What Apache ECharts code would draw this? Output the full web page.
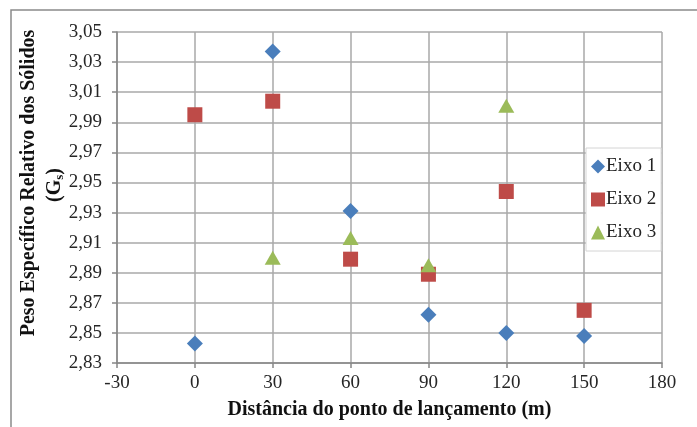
<!DOCTYPE html>
<html>
<head>
<meta charset="utf-8">
<script src="https://cdn.jsdelivr.net/npm/echarts@6/dist/echarts.min.js"></script>
<style>
html,body{margin:0;padding:0;background:#fff;}
#c{width:697px;height:427px;}
</style>
</head>
<body>
<div id="c"></div>
<script>
var xValues = [0, 30, 60, 90, 120, 150];
var eixo1 = [2.843, 3.037, 2.931, 2.862, 2.850, 2.848];
var eixo2 = [2.995, 3.004, 2.899, 2.889, 2.944, 2.865];
var eixo3x = [30, 60, 90, 120];
var eixo3 = [2.900, 2.913, 2.895, 3.001];
var yTicks = [2.83, 2.85, 2.87, 2.89, 2.91, 2.93, 2.95, 2.97, 2.99, 3.01, 3.03, 3.05];
var seriesNames = ['Eixo 1', 'Eixo 2', 'Eixo 3'];

function pairs(xs, ys) { return xs.map(function (x, i) { return [x, ys[i]]; }); }

var FONT = 'Liberation Serif';
var chart = echarts.init(document.getElementById('c'));
chart.setOption({
  animation: false,
  backgroundColor: '#fff',
  grid: { left: 117, right: 35, top: 32, bottom: 64 },
  xAxis: {
    type: 'value', min: -30, max: 180, interval: 30,
    axisLine: { show: true, onZero: false, lineStyle: { color: '#868686', width: 1.5 } },
    axisTick: { show: true, inside: false, length: 5, lineStyle: { color: '#868686', width: 1.5 } },
    axisLabel: { margin: 11, fontFamily: FONT, fontSize: 19, color: '#262626' },
    splitLine: { show: true, lineStyle: { color: '#a8a8a8', width: 1.5 } },
    name: 'Distância do ponto de lançamento (m)',
    nameLocation: 'middle', nameGap: 37,
    nameTextStyle: { fontFamily: FONT, fontSize: 20, fontWeight: 'bold', color: '#111' }
  },
  yAxis: {
    type: 'value', min: 2.83, max: 3.05,
    axisLine: { show: true, onZero: false, lineStyle: { color: '#868686', width: 1.5 } },
    axisTick: { show: true, inside: false, length: 5, customValues: yTicks, lineStyle: { color: '#868686', width: 1.5 } },
    axisLabel: {
      margin: 15, fontFamily: FONT, fontSize: 19, color: '#262626', customValues: yTicks,
      formatter: function (v) { return v.toFixed(2).replace('.', ','); }
    },
    splitLine: { show: true, customValues: yTicks, lineStyle: { color: '#a8a8a8', width: 1.5 } }
  },
  legend: {
    orient: 'vertical', left: 586, top: 148,
    padding: [9, 5, 9, 5], itemGap: 14, itemWidth: 14, itemHeight: 14,
    backgroundColor: '#fff', borderColor: '#d4d4d4', borderWidth: 1,
    textStyle: { fontFamily: FONT, fontSize: 19, color: '#222', padding: [0, 0, 0, -4] },
    data: seriesNames
  },
  graphic: [
    { type: 'rect', silent: true, z: 100, shape: { x: 11, y: 10, width: 720, height: 460 },
      style: { fill: null, stroke: '#8a8a8a', lineWidth: 1.5 } },
    { type: 'text', x: 29, y: 183, rotation: Math.PI / 2,
      style: { text: 'Peso Específico Relativo dos Sólidos', font: 'bold 20px "Liberation Serif"',
        fill: '#111', align: 'center', verticalAlign: 'middle' } },
    { type: 'text', x: 55, y: 185, rotation: Math.PI / 2,
      style: { text: '(G{s|s})', font: 'bold 20px "Liberation Serif"', fill: '#111',
        align: 'center', verticalAlign: 'middle',
        rich: { s: { font: 'bold 13px "Liberation Serif"', fill: '#111', verticalAlign: 'bottom', padding: [9, 0, 0, 0] } } } }
  ],
  series: [
    { name: seriesNames[0], type: 'scatter', symbol: 'diamond', symbolSize: [16, 16],
      itemStyle: { color: '#4a7ebb', opacity: 1 }, data: pairs(xValues, eixo1), z: 3 },
    { name: seriesNames[1], type: 'scatter', symbol: 'rect', symbolSize: 15,
      itemStyle: { color: '#be4b48', opacity: 1 }, data: pairs(xValues, eixo2), z: 2 },
    { name: seriesNames[2], type: 'scatter', symbol: 'triangle', symbolSize: [16, 14],
      itemStyle: { color: '#9bbb59', opacity: 1 }, data: pairs(eixo3x, eixo3), z: 4 }
  ]
});
</script>
</body>
</html>
